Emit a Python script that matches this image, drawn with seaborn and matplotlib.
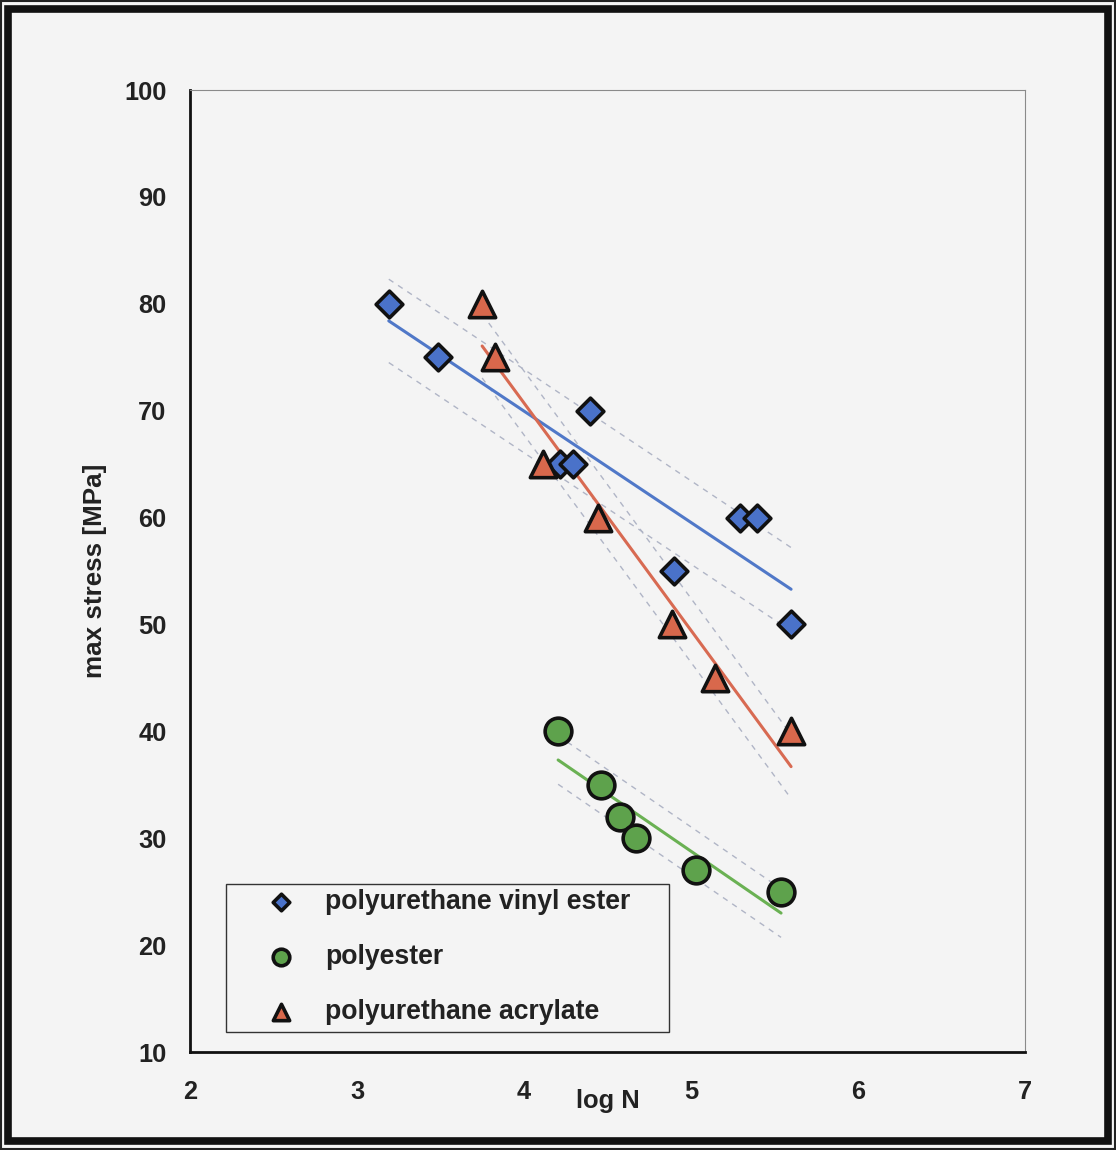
import numpy as np
import pandas as pd
import matplotlib
matplotlib.use("Agg")
import matplotlib.pyplot as plt
import seaborn as sns
from matplotlib.patches import Rectangle

# fatigue data: log N vs max stress [MPa]
puve_logn = [3.19, 3.485, 4.216, 4.293, 4.395, 4.898, 5.293, 5.395, 5.599]
puve_stress = [80, 75, 65, 65, 70, 55, 60, 60, 50]

pe_logn = [4.204, 4.461, 4.575, 4.671, 5.03, 5.539]
pe_stress = [40, 35, 32, 30, 27, 25]

pua_logn = [3.749, 3.826, 4.114, 4.443, 4.886, 5.144, 5.599]
pua_stress = [80, 75, 65, 60, 50, 45, 40]

labels = ["polyurethane vinyl ester", "polyester", "polyurethane acrylate"]
x_ticks = [2, 3, 4, 5, 6, 7]
y_ticks = [10, 20, 30, 40, 50, 60, 70, 80, 90, 100]

bg = "#f4f4f4"
sns.set_theme(style="white")
plt.rcParams["font.family"] = ["Liberation Sans", "DejaVu Sans"]
plt.rcParams["font.weight"] = "bold"

series = [
    (labels[0], puve_logn, puve_stress, "D", 185, "#4a72c9", "#5078c8"),
    (labels[1], pe_logn, pe_stress, "o", 370, "#5ea24c", "#6ab153"),
    (labels[2], pua_logn, pua_stress, "^", 360, "#d8684c", "#d86a52"),
]

fig = plt.figure(figsize=(11.16, 11.5), dpi=100, facecolor=bg)
ax = fig.add_axes([0.1703, 0.0852, 0.7482, 0.8365])
ax.set_facecolor(bg)

for name, xs, ys, marker, size, fill, line_col in series:
    df = pd.DataFrame({"logN": xs, "stress": ys})
    # least squares line over the data range
    sns.regplot(data=df, x="logN", y="stress", scatter=False, ci=None,
                truncate=True, ax=ax, line_kws={"color": line_col, "lw": 2.2, "zorder": 2})
    # band of +/- standard error of the regression
    slope, icpt = np.polyfit(df["logN"], df["stress"], 1)
    resid = df["stress"] - (slope * df["logN"] + icpt)
    s = np.sqrt((resid ** 2).sum() / (len(df) - 2))
    xr = np.array([df["logN"].min(), df["logN"].max()])
    for sign in (1, -1):
        ax.plot(xr, slope * xr + icpt + sign * s, color="#b0b5c6", lw=1.0,
                ls=(0, (4, 4)), zorder=1)
    sns.scatterplot(data=df, x="logN", y="stress", marker=marker, s=size,
                    color=fill, edgecolor="#111111", linewidth=2.6, ax=ax,
                    label=name, zorder=3)

ax.set_xlim(2, 7)
ax.set_ylim(10, 100)
ax.set_xticks(x_ticks)
ax.set_yticks(y_ticks)
ax.tick_params(axis="both", direction="in", length=5, width=1.5, color="#222222",
               labelsize=18.3, labelcolor="#222222")
ax.tick_params(axis="x", pad=20)
ax.tick_params(axis="y", pad=17)
for lbl in ax.get_xticklabels() + ax.get_yticklabels():
    lbl.set_fontweight("bold")

for side in ("left", "bottom"):
    ax.spines[side].set_color("#111111")
    ax.spines[side].set_linewidth(2.0)
for side in ("top", "right"):
    ax.spines[side].set_color("#8a8a8a")
    ax.spines[side].set_linewidth(0.8)

ax.set_xlabel("log N", fontsize=18.4, fontweight="bold", color="#222222")
ax.set_ylabel("max stress [MPa]", fontsize=18.7, fontweight="bold", color="#222222")
ax.xaxis.set_label_coords(0.5, -0.038)
ax.yaxis.set_label_coords(-0.1, 0.5)

# legend box drawn separately so it can be wider than the text
ax.add_patch(Rectangle((0.0431, 0.0208), 0.5305, 0.1538, transform=ax.transAxes,
                       facecolor=bg, edgecolor="#333333", linewidth=1.0, zorder=4))
leg = ax.legend(loc="center left", bbox_to_anchor=(0.0838, 0.0988), fontsize=19.2,
                markerscale=0.62, frameon=False, borderpad=0, labelspacing=1.08,
                handletextpad=0.85, borderaxespad=0, handlelength=1.6)
leg.set_zorder(5)
for t in leg.get_texts():
    t.set_fontweight("bold")
    t.set_color("#222222")

# heavy page border around the figure
fig.patches.append(Rectangle((0.0075, 0.0075), 0.985, 0.985, transform=fig.transFigure,
                             fill=False, edgecolor="#111111", linewidth=5.5))
fig.patches.append(Rectangle((0.001, 0.001), 0.998, 0.998, transform=fig.transFigure,
                             fill=False, edgecolor="#222222", linewidth=1.5))

fig.savefig("out.png", dpi=100, facecolor=bg)
